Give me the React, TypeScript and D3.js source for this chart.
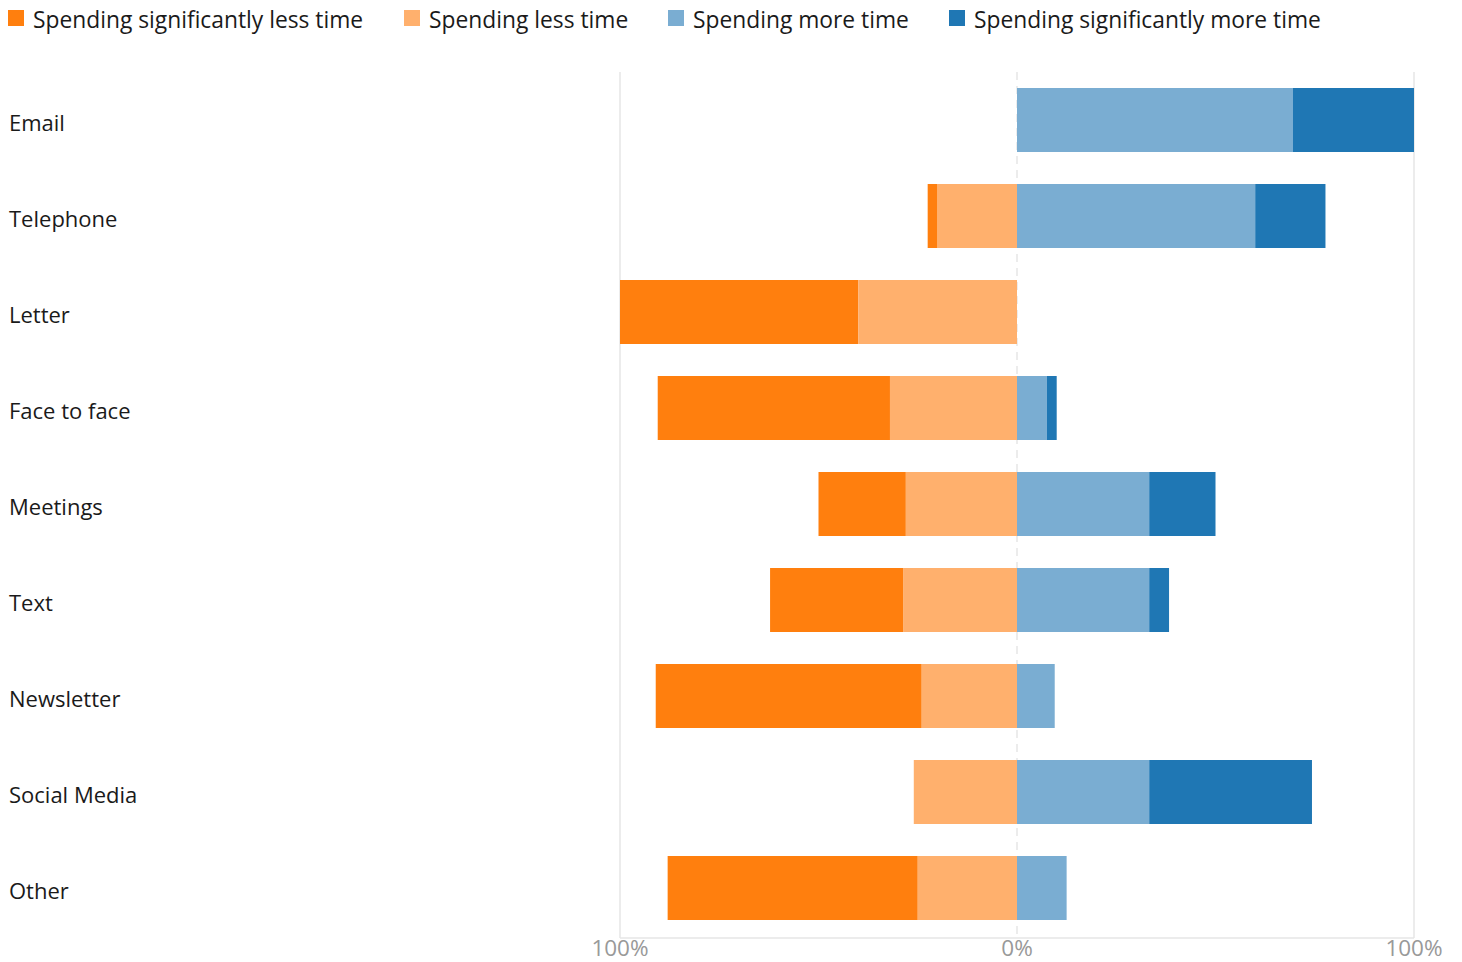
import React from "react";
import * as d3 from "d3";

const categories = ["Email", "Telephone", "Letter", "Face to face", "Meetings", "Text", "Newsletter", "Social Media", "Other"];
const sigLess = [0, 2.5, 60, 58.5, 22, 33.5, 67, 0, 63];
const less = [0, 20, 40, 32, 28, 28.7, 24, 26, 25];
const more = [69.5, 60, 0, 7.5, 33.3, 33.3, 9.5, 33.3, 12.5];
const sigMore = [30.5, 17.7, 0, 2.5, 16.7, 5, 0, 41, 0];
const seriesNames = ["Spending significantly less time", "Spending less time", "Spending more time", "Spending significantly more time"];
const seriesColors = ["#ff7f0e", "#ffb06d", "#7aadd2", "#1f77b4"];
const tickValues = [-100, 0, 100];
const tickLabels = ["100%", "0%", "100%"];
const legendX = [8, 404, 668, 949];

const W = 1462, H = 962;
const FONT = "'Open Sans', 'Noto Sans', sans-serif";

export default function App() {
  const x = d3.scaleLinear().domain([-100, 100]).range([620, 1414]);
  const y = d3.scaleBand().domain(categories).range([72, 936]).paddingInner(1 / 3).paddingOuter(1 / 6);

  const segs: { key: string; x0: number; x1: number; y: number; h: number; c: string }[] = [];
  categories.forEach((cat, i) => {
    const yy = y(cat)!;
    const h = y.bandwidth();
    const lessStart = -less[i];
    const sigStart = lessStart - sigLess[i];
    if (sigLess[i] > 0) segs.push({ key: cat + "sl", x0: x(sigStart), x1: x(lessStart), y: yy, h, c: seriesColors[0] });
    if (less[i] > 0) segs.push({ key: cat + "l", x0: x(lessStart), x1: x(0), y: yy, h, c: seriesColors[1] });
    if (more[i] > 0) segs.push({ key: cat + "m", x0: x(0), x1: x(more[i]), y: yy, h, c: seriesColors[2] });
    if (sigMore[i] > 0) segs.push({ key: cat + "sm", x0: x(more[i]), x1: x(more[i] + sigMore[i]), y: yy, h, c: seriesColors[3] });
  });

  return (
    <svg width={W} height={H} style={{ position: "absolute", left: 0, top: 0, display: "block", background: "#fff" }}>
      {seriesNames.map((n, i) => (
        <g key={n}>
          <rect x={legendX[i]} y={10} width={16} height={16} fill={seriesColors[i]} />
          <text x={legendX[i] + 25} y={28} fontFamily={FONT} fontSize={22.8} fill="#1a1a1a">{n}</text>
        </g>
      ))}
      {tickValues.map((t) => (
        <line key={"g" + t} x1={x(t)} x2={x(t)} y1={72} y2={938} stroke="#e6e6e6" strokeWidth={1.5}
          strokeDasharray={t === 0 ? "8,6" : undefined} />
      ))}
      <line x1={x(-100)} x2={x(100)} y1={938} y2={938} stroke="#e6e6e6" strokeWidth={1.5} />
      {segs.map((s) => (
        <rect key={s.key} x={s.x0} y={s.y} width={Math.max(0, s.x1 - s.x0)} height={s.h} fill={s.c} />
      ))}
      {categories.map((c) => (
        <text key={c} x={9} y={y(c)! + y.bandwidth() / 2 + 11} fontFamily={FONT} fontSize={22} fill="#1a1a1a">{c}</text>
      ))}
      {tickValues.map((t, i) => (
        <text key={"t" + i} x={x(t)} y={956} textAnchor="middle" fontFamily={FONT} fontSize={22.5} fill="#999">{tickLabels[i]}</text>
      ))}
    </svg>
  );
}
